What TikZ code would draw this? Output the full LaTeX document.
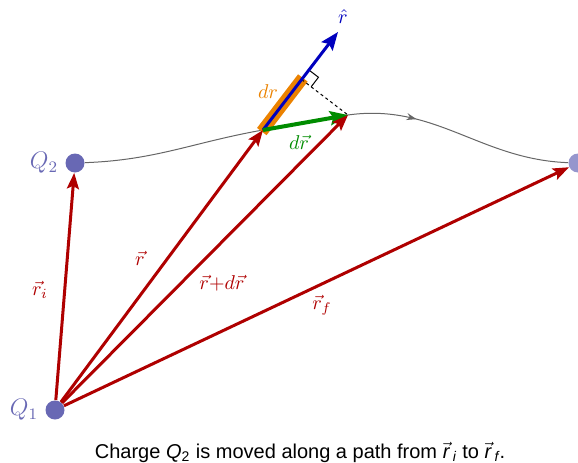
\documentclass[tikz,border=0pt]{standalone}
\usepackage{amsmath}
\usepackage{fontspec}
\newfontfamily\capfont{Liberation Sans}
\usetikzlibrary{arrows.meta,positioning,calc,decorations.markings}
\definecolor{vred}{RGB}{175,0,0}
\definecolor{vblue}{RGB}{0,0,190}
\definecolor{vgreen}{RGB}{0,140,0}
\definecolor{vorange}{RGB}{235,130,0}
\definecolor{qpt}{RGB}{104,104,180}
\definecolor{qptlight}{RGB}{150,150,205}

\begin{document}
\begin{tikzpicture}[x=0.5pt,y=0.5pt,
  charge/.style={circle,fill=qpt,inner sep=0pt,minimum size=9.5pt},
  qlbl/.style={text=qpt,font=\large},
  vec/.style={-{Stealth[length=8pt,width=6pt,inset=1.5pt]},line width=1.5pt,vred},
  lbl/.style={text=vred},
  pathline/.style={gray!80!black,line width=0.5pt,postaction={decorate},
    decoration={markings,mark=at position 0.68 with {\arrow{Stealth[length=5pt,width=3.5pt]}}}}]
\useasboundingbox (0,0) rectangle (578,462);
\node[charge] (q1) at (55,52) {};
\node[charge] (q2) at (75,299) {};
\node[charge,fill=qptlight] (qf) at (578,299) {};
\coordinate (r) at (263,332);
\coordinate (rdr) at (348,347);
\coordinate (tip) at (338,430);
\coordinate (foot) at ($(r)!(rdr)!(tip)$);
\coordinate (ma) at ($(foot)!6pt!(tip)$);
\coordinate (mb) at ($(foot)!6pt!(rdr)$);
\coordinate (mc) at ($(ma)+(mb)-(foot)$);

\draw[pathline] (q2) to[out=2,in=190] (r) to[out=10,in=188] (rdr) to[out=8,in=178] (qf);
\draw[vorange,line width=6pt] ($(r)!-1pt!(foot)$) -- ($(foot)!-1pt!(r)$);
\draw[line width=0.5pt] (ma) -- (mc) -- (mb);
\draw[dashed,dash pattern=on 1.5pt off 1.5pt,line width=0.5pt] (foot) -- (rdr);
\draw[-{Stealth[length=9pt,width=7pt,inset=1.5pt]},line width=1.5pt,vblue] (r) -- (tip);
\draw[-{Stealth[length=9pt,width=7pt,inset=1.5pt]},line width=2pt,vgreen] (r) -- (rdr);

\draw[vec] (q1) -- (q2);
\draw[vec] (q1) -- (r);
\draw[vec] (q1) -- (rdr);
\draw[vec] (q1) -- (qf);

\node[qlbl,left=0pt of q2] (lq2) {$Q_2$};
\node[qlbl,left=0pt of q1] (lq1) {$Q_1$};
\node[text=vblue] (lrhat) at (343,445) {$\hat r$};
\node[text=vorange] (ldr) at (268,370) {$dr$};
\node[text=vgreen] (ldvr) at (299,320) {$d\vec r$};
\node[lbl] (lri) at (40,172) {$\vec r_i$};
\node[lbl] (lr) at (140,204) {$\vec r$};
\node[lbl] (lrdr) at (222,179) {$\vec r{+}d\vec r$};
\node[lbl] (lrf) at (322,157) {$\vec r_f$};
\node[font=\capfont\fontsize{10}{12}\selectfont] (cap) at (300,10) {Charge \textit{Q}\textsubscript{2} is moved along a path from $\vec{\hbox{\capfont\itshape r}}$\,\textsubscript{\itshape i} to $\vec{\hbox{\capfont\itshape r}}$\,\textsubscript{\itshape f}.};
\end{tikzpicture}
\end{document}
